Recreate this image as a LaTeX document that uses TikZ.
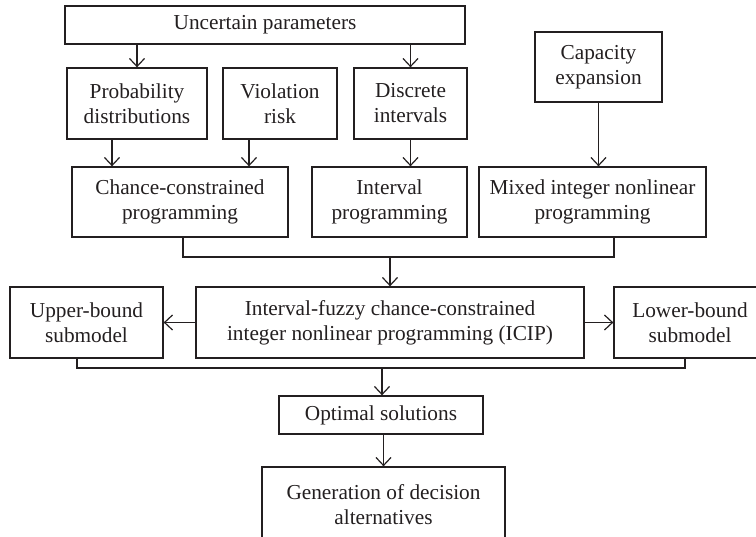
\documentclass[tikz,border=0pt]{standalone}
\usepackage{fontspec}
\setmainfont{Liberation Serif}
\usetikzlibrary{arrows.meta}
\definecolor{ink}{HTML}{231F20}
\begin{document}
\begin{tikzpicture}[x=1pt,y=-1pt,
  box/.style={draw=ink,line width=1.3pt,inner sep=0pt,align=center,
    font=\fontsize{21.3}{25}\selectfont,text=ink},
  arr/.style={draw=ink,line width=1.2pt,-{Straight Barb[length=8pt,width=15pt,line width=1.2pt]}},
  ln/.style={draw=ink,line width=1.2pt}]
\useasboundingbox (0,0) rectangle (756,537);
\node[box,minimum width=400,minimum height=38] (top) at (265,25) {Uncertain parameters};
\node[box,minimum width=140,minimum height=71] (prob) at (137,103.5) {Probability\\distributions};
\node[box,minimum width=114,minimum height=71] (viol) at (280,103.5) {Violation\\risk};
\node[box,minimum width=113,minimum height=71] (disc) at (410.5,103.5) {Discrete\\intervals};
\node[box,minimum width=127,minimum height=70] (cap) at (598.5,67) {Capacity\\expansion};
\node[box,minimum width=216,minimum height=70] (chance) at (180,202) {Chance-constrained\\programming};
\node[box,minimum width=155,minimum height=70] (intv) at (389.5,202) {Interval\\programming};
\node[box,minimum width=227,minimum height=70] (mixed) at (592.5,202) {Mixed integer nonlinear\\programming};
\node[box,minimum width=388,minimum height=71] (icip) at (390,322.5) {Interval-fuzzy chance-constrained\\integer nonlinear programming (ICIP)};
\node[box,minimum width=153,minimum height=71] (upper) at (86.5,322.5) {Upper-bound\\submodel};
\node[box,minimum width=152,minimum height=71] (lower) at (690,322.5) {Lower-bound\\submodel};
\node[box,minimum width=204,minimum height=38] (opt) at (381,415) {Optimal solutions};
\node[box,minimum width=243,minimum height=76] (gen) at (383.5,505) {Generation of decision\\alternatives};
\coordinate (m1) at (390,257);
\coordinate (m2) at (382,368);
% arrows
\draw[arr] (top.south -| prob.north) -- (prob.north);
\draw[arr] (top.south -| disc.north) -- (disc.north);
\draw[arr] ([xshift=-25pt]prob.south) -- ([xshift=-25pt]prob.south |- chance.north);
\draw[arr] ([xshift=-31pt]viol.south) -- ([xshift=-31pt]viol.south |- chance.north);
\draw[arr] (disc.south) -- (disc.south |- intv.north);
\draw[arr] (cap.south) -- (cap.south |- mixed.north);
\draw[ln] ([xshift=3pt]chance.south) |- (m1) -| ([xshift=21.5pt]mixed.south);
\draw[arr] (m1) -- (icip.north);
\draw[arr] (icip.west) -- (upper.east);
\draw[arr] (icip.east) -- (lower.east -| lower.west);
\draw[ln] ([xshift=-9.5pt]upper.south) |- (m2) -| ([xshift=-5pt]lower.south);
\draw[arr] (m2) -- (m2 |- opt.north);
\draw[arr] (gen.north |- opt.south) -- (gen.north);
\end{tikzpicture}
\end{document}
